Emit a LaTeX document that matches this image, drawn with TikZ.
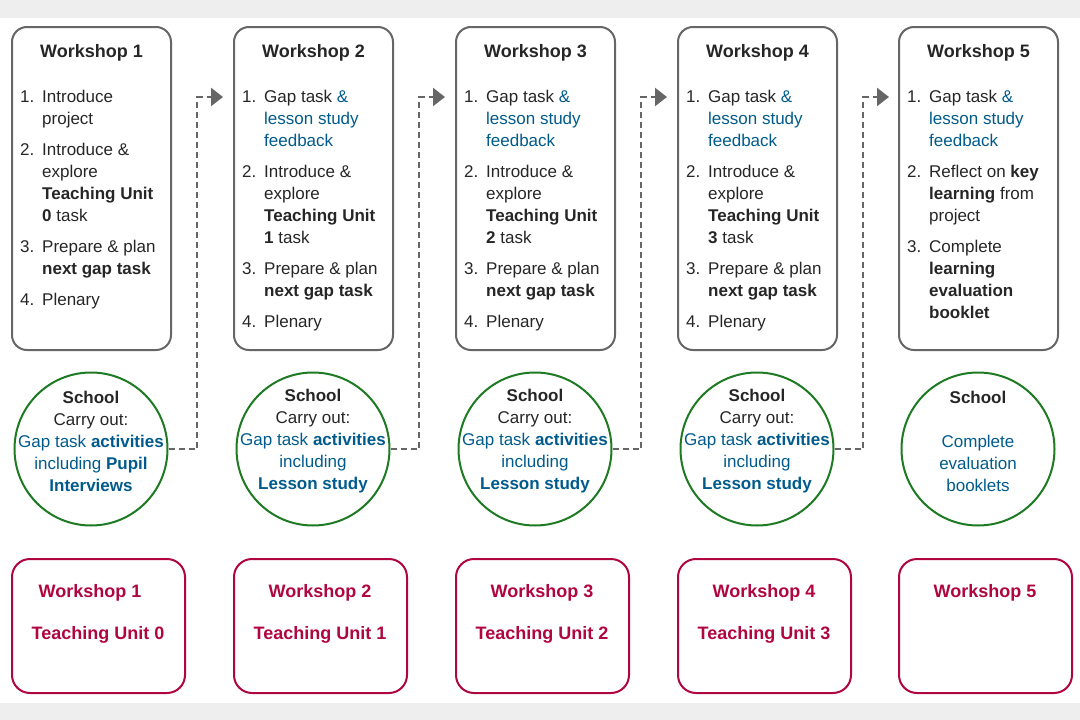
\documentclass[tikz,border=0pt]{standalone}
\usepackage{fontspec}
\setmainfont{Liberation Sans}
\usepackage{array}
\usetikzlibrary{arrows.meta}
\definecolor{wsgray}{HTML}{666666}
\definecolor{bandgray}{HTML}{EEEEEE}
\definecolor{schoolgreen}{HTML}{1E7A23}
\definecolor{linkblue}{HTML}{005B8C}
\definecolor{unitred}{HTML}{B0063F}
\newcommand{\bl}[1]{\textcolor{linkblue}{#1}}
\newcommand{\gap}{\\\noalign{\vspace{9pt}}}
\newcommand{\wslist}[1]{\begin{tabular}{@{}>{\raggedleft}p{14pt}@{\hspace{8pt}}>{\raggedright\arraybackslash}p{121pt}@{}}#1\end{tabular}}
\tikzset{
  wsbox/.style={draw=wsgray, line width=2pt, rounded corners=15pt, minimum width=159pt, minimum height=323pt, anchor=north},
  wstitle/.style={font=\fontsize{18}{20}\selectfont\bfseries, text=black!85},
  wsitems/.style={anchor=north west, inner sep=0pt, font=\fontsize{17}{22}\selectfont, text=black!85},
  school/.style={draw=schoolgreen, line width=2pt, circle, inner sep=0pt, minimum size=153pt},
  schooltext/.style={align=center, font=\fontsize{17}{22}\selectfont, text=black!85, yshift=8pt},
  unitbox/.style={draw=unitred, line width=2pt, rounded corners=18pt, minimum width=173pt, minimum height=134pt, anchor=north},
  unittext/.style={text=unitred, font=\fontsize{18}{20}\selectfont\bfseries},
  flow/.style={draw=wsgray, line width=2.2pt, dash pattern=on 6pt off 4pt, -{Triangle[length=12pt,width=18pt]}}
}
\begin{document}
\begin{tikzpicture}[x=1pt,y=-1pt]
\useasboundingbox (0,0) rectangle (1080,720);
\fill[bandgray] (0,0) rectangle (1080,18);
\fill[bandgray] (0,703) rectangle (1080,720);

% workshop boxes
\node[wsbox] (ws1) at (91.5,26) {};
\node[wsbox] (ws2) at (313.5,26) {};
\node[wsbox] (ws3) at (535.5,26) {};
\node[wsbox] (ws4) at (757.5,26) {};
\node[wsbox] (ws5) at (978.5,26) {};
\foreach \i/\x in {1/91.5,2/313.5,3/535.5,4/757.5,5/978.5}
  \node[wstitle] (t\i) at (\x,53) {Workshop \i};

\node[wsitems] (l1) at (20,87) {\wslist{1.& Introduce project\gap
  2.& Introduce \& explore \textbf{Teaching Unit 0} task\gap
  3.& Prepare \& plan \textbf{next gap task}\gap
  4.& Plenary}};
\foreach \i/\x in {2/242,3/464,4/686}{
  \pgfmathtruncatemacro{\u}{\i-1}
  \node[wsitems] (l\i) at (\x,87) {\wslist{1.& Gap task \bl{\& lesson study feedback}\gap
    2.& Introduce \& explore \textbf{Teaching Unit \u} task\gap
    3.& Prepare \& plan \textbf{next gap task}\gap
    4.& Plenary}};
}
\node[wsitems] (l5) at (907,87) {\wslist{1.& Gap task \bl{\& lesson study feedback}\gap
  2.& Reflect on \textbf{key learning} from project\gap
  3.& Complete \textbf{learning evaluation booklet}}};

% school circles
\foreach \i/\x in {1/91,2/313,3/535,4/757,5/978}
  \node[school] (s\i) at (\x,449) {};
\node[schooltext] (st1) at (s1) {\textbf{School}\\Carry out:\\\bl{Gap task \textbf{activities}}\\\bl{including \textbf{Pupil}}\\\bl{\textbf{Interviews}}};
\node[schooltext] (st2) at (s2) {\textbf{School}\\Carry out:\\\bl{Gap task \textbf{activities}}\\\bl{including}\\\bl{\textbf{Lesson study}}};
\node[schooltext] (st3) at (s3) {\textbf{School}\\Carry out:\\\bl{Gap task \textbf{activities}}\\\bl{including}\\\bl{\textbf{Lesson study}}};
\node[schooltext] (st4) at (s4) {\textbf{School}\\Carry out:\\\bl{Gap task \textbf{activities}}\\\bl{including}\\\bl{\textbf{Lesson study}}};
\node[schooltext] (st5) at (s5) {\textbf{School}\\[22pt]\bl{Complete}\\\bl{evaluation}\\\bl{booklets}};

% unit boxes
\node[unitbox] (u1) at (98.5,558) {};
\node[unitbox] (u2) at (320.5,558) {};
\node[unitbox] (u3) at (542.5,558) {};
\node[unitbox] (u4) at (764.5,558) {};
\node[unitbox] (u5) at (985.5,558) {};
\foreach \i/\x in {1/90,2/320,3/542,4/764,5/985}
  \node[unittext] (uw\i) at (\x,593) {Workshop \i};
\foreach \i/\x in {1/98,2/320,3/542,4/764}{
  \pgfmathtruncatemacro{\u}{\i-1}
  \node[unittext] (ut\i) at (\x,635) {Teaching Unit \u};
}

% dashed links
\coordinate (c1) at (197,97);
\coordinate (c2) at (419,97);
\coordinate (c3) at (641,97);
\coordinate (c4) at (863,97);
\coordinate (e1) at (223,97);
\coordinate (e2) at (445,97);
\coordinate (e3) at (667,97);
\coordinate (e4) at (889,97);
\foreach \i in {1,...,4}
  \draw[flow] (s\i.east) -| (c\i) -- (e\i);
\end{tikzpicture}
\end{document}
